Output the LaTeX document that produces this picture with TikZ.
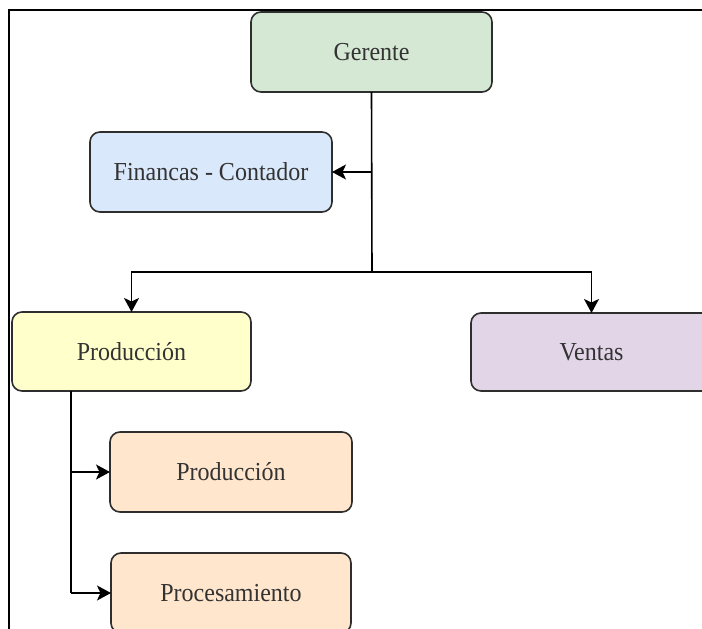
\documentclass[tikz,border=0pt]{standalone}
\usepackage{graphicx}
\usepackage{fontspec}
\setmainfont{Liberation Serif}
\usetikzlibrary{arrows.meta}
\definecolor{boxline}{HTML}{2E2E2E}
\definecolor{textgray}{HTML}{333333}
\definecolor{greenfill}{HTML}{D5E8D4}
\definecolor{bluefill}{HTML}{DAE8FC}
\definecolor{yellowfill}{HTML}{FFFFCC}
\definecolor{purplefill}{HTML}{E1D5E7}
\definecolor{orangefill}{HTML}{FFE6CC}
% slightly tall lettering
\newcommand{\talltext}[1]{\scalebox{1}[1.08]{#1}}
\begin{document}
\begin{tikzpicture}[x=1pt,y=-1pt,
  box/.style={draw=boxline, line width=1.6pt, rounded corners=10pt,
    text=textgray, font=\fontsize{24}{28}\selectfont,
    minimum width=241pt, minimum height=80pt, inner sep=0pt, outer sep=0pt,
    anchor=north west},
  link/.style={draw=black, line width=1.6pt},
  tip/.style={link, -{Stealth[length=14pt,width=15pt,inset=3.5pt]}},
  frame/.style={draw=black, line width=2pt}]
\useasboundingbox (0,0) rectangle (702,629);
\clip (0,0) rectangle (702,629);

% page frame
\draw[frame] (702,10) -- (9,10) -- (9,629);

% boxes
\node[box, fill=greenfill]  (ger)  at (251,12)  {\talltext{Gerente}};
\node[box, fill=bluefill, minimum width=242pt] (fin) at (90,132) {\talltext{Financas - Contador}};
\node[box, fill=yellowfill, minimum width=239pt, minimum height=79pt] (prod) at (12,312) {\talltext{Producción}};
\node[box, fill=purplefill, minimum height=78pt] (ven) at (471,313) {\talltext{Ventas}};
\node[box, fill=orangefill, minimum width=242pt] (sub1) at (110,432) {\talltext{Producción}};
\node[box, fill=orangefill, minimum width=240pt] (sub2) at (111,553) {\talltext{Procesamiento}};

% connectors from Gerente
\coordinate (j1) at (372,172);
\coordinate (j2) at (372,272);
\draw[link] (ger.south) -- (j2);
\draw[tip] (j1) -- (j1 -| fin.east);
\draw[tip] (j2) -| (prod.north);
\draw[tip] (j2) -| (ven.north);

% connectors from Producción
\coordinate (k) at (71,0);
\draw[link] (prod.south -| k) -- (sub2.west -| k);
\draw[tip] (sub1.west -| k) -- (sub1.west);
\draw[tip] (sub2.west -| k) -- (sub2.west);
\end{tikzpicture}
\end{document}
